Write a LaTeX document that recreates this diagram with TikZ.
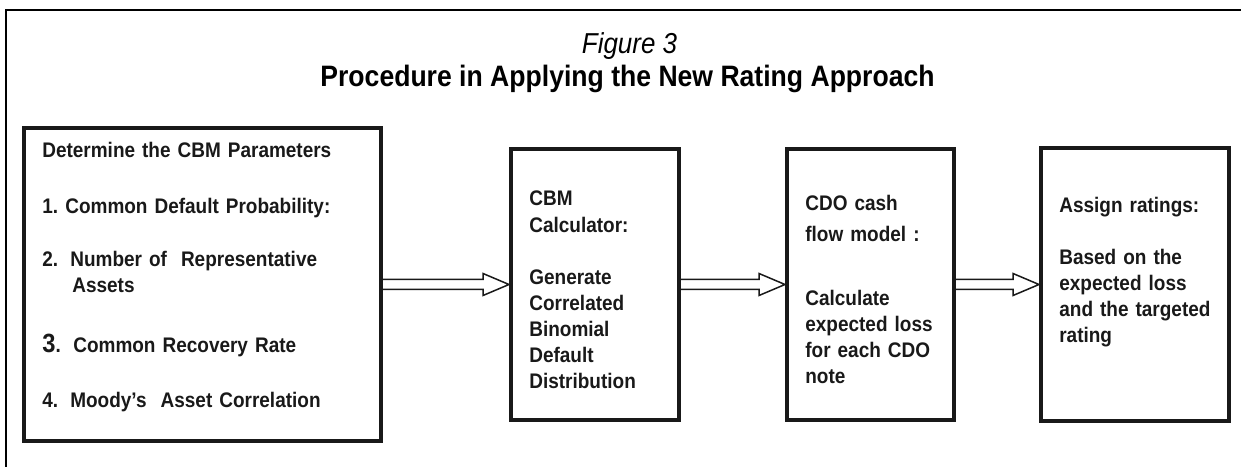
\documentclass[tikz,border=0pt]{standalone}
\usepackage{fontspec}
\setmainfont{Liberation Sans}[FakeStretch=0.9]
\usepackage{tikz}
\usetikzlibrary{positioning, calc}
\newcommand{\hollowarrow}[2]{%
  \draw[flowarrow] let \p1=(#1.east), \p2=(#2.west) in
    (\x1,\y1+0.1cm) -- (\x2-0.52cm,\y1+0.1cm) -- (\x2-0.52cm,\y1+0.22cm)
    -- (\x2,\y1) -- (\x2-0.52cm,\y1-0.22cm) -- (\x2-0.52cm,\y1-0.1cm) -- (\x1,\y1-0.1cm);}

\begin{document}
\begin{tikzpicture}[
        box/.style={rectangle, draw=black!90, line width=0.08cm, inner sep=0pt},
        boxtext/.style={anchor=base west, align=left, inner sep=0pt, text=black!90, font=\bfseries\fontsize{12}{14.8}\selectfont},
        frame/.style={draw=black, line width=0.04cm},
        flowarrow/.style={draw=black!90, line width=0.03cm, line join=miter}
    ]
        \useasboundingbox (0,0) rectangle (24.82,9.32);
        \clip (0,0) rectangle (24.82,9.32);
        \draw[frame] (0.12,-1) |- (26,9.12);
        \node[anchor=base, font=\itshape\fontsize{16.4}{18}\selectfont] (fignum) at (12.59,8.24) {Figure 3};
        \node[anchor=base, font=\bfseries\fontsize{16.8}{19}\selectfont] (title) at (12.55,7.58) {Procedure in Applying the New Rating Approach};
        \node[box, minimum width=7.14cm, minimum height=6.26cm] (params) at (4.05,3.63) {};
        \node[box, minimum width=3.36cm, minimum height=5.42cm, right=2.52cm of params] (cbmcalc) {};
        \node[box, minimum width=3.34cm, minimum height=5.42cm, right=2.08cm of cbmcalc] (cashflow) {};
        \node[box, minimum width=3.76cm, minimum height=5.44cm, right=1.66cm of cashflow] (ratings) {};
        \node[boxtext, text width=6.8cm, xshift=0.4cm, yshift=-0.64cm] (paramstext) at (params.north west) {Determine the CBM Parameters\\[16.5pt]
            \makebox[0.46cm][l]{1.}Common Default Probability:\\[15.9pt]
            \makebox[0.56cm][l]{2.}Number of\ \ Representative\\
            \hspace*{0.6cm}Assets\\[19.3pt]
            \makebox[0.62cm][l]{{\fontsize{15}{15}\selectfont 3}.}Common Recovery Rate\\[16.5pt]
            \makebox[0.56cm][l]{4.}Moody’s\ \ Asset Correlation};
        \node[boxtext, text width=3cm, xshift=0.4cm, yshift=-1.18cm] (cbmtext) at (cbmcalc.north west) {CBM\\ Calculator:\\[15.3pt]
            Generate\\ Correlated\\ Binomial\\ Default\\ Distribution};
        \node[boxtext, text width=3cm, xshift=0.4cm, yshift=-1.28cm] (cashtext) at (cashflow.north west) {CDO cash\\[2.6pt] flow model :\\[21.3pt]
            Calculate\\ expected loss\\ for each CDO\\ note};
        \node[boxtext, text width=3.4cm, xshift=0.4cm, yshift=-1.32cm] (ratingtext) at (ratings.north west) {Assign ratings:\\[15pt]
            Based on the\\ expected loss\\ and the targeted\\ rating};
        \hollowarrow{params}{cbmcalc}
        \hollowarrow{cbmcalc}{cashflow}
        \hollowarrow{cashflow}{ratings}
    \end{tikzpicture}
\end{document}
